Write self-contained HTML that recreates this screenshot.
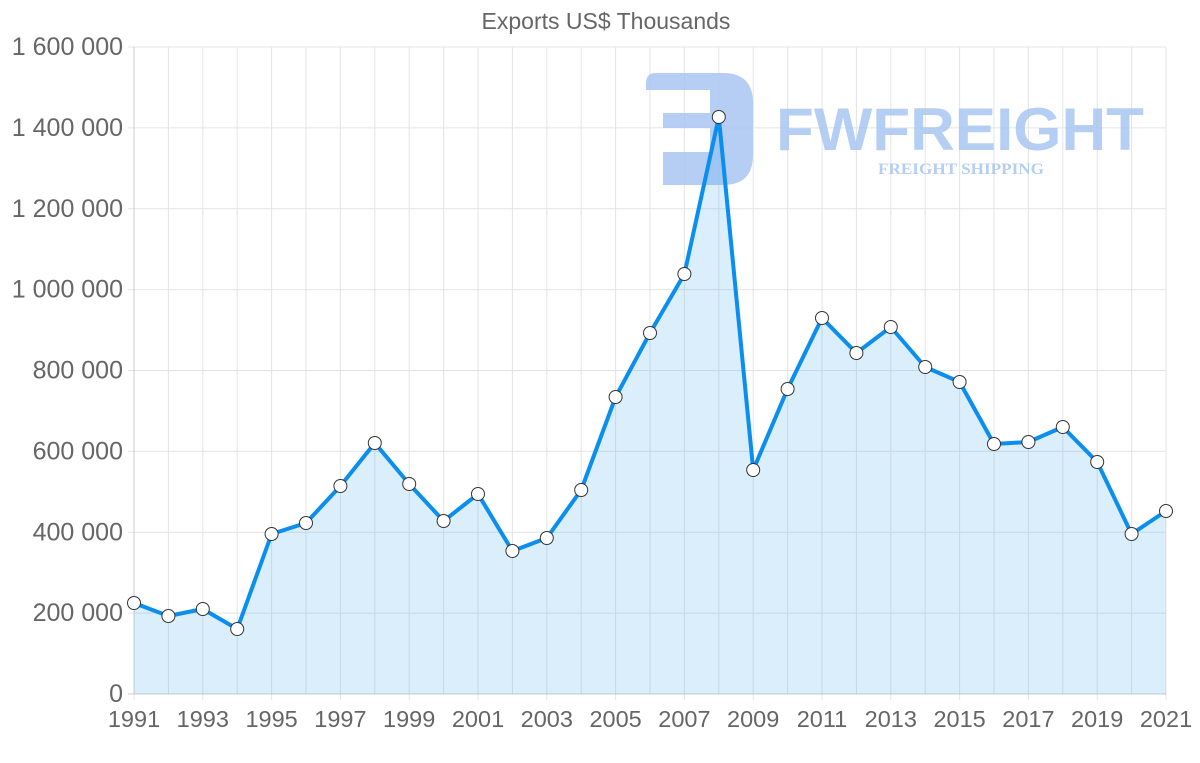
<!DOCTYPE html>
<html><head><meta charset="utf-8"><style>
html,body{margin:0;padding:0;background:#fff;width:1200px;height:763px;overflow:hidden}
svg{display:block;font-family:"Liberation Sans",sans-serif}
</style></head><body>
<svg id="s" width="1200" height="763" viewBox="0 0 1200 763">
<text x="606" y="29" text-anchor="middle" font-size="23" fill="#666">Exports US$ Thousands</text>
<g id="grid"></g>
<g opacity="0.85">
<path d="M656,73 H723 Q753,73 753,103 V155 Q753,185 723,185 H663 V152 H710 V128 H663 V113 H710 V90 H646 V83 Q646,73 656,73 Z" fill="#a9c6f2"/>
<text x="960" y="150" text-anchor="middle" font-size="60" font-weight="bold" fill="#a9c6f2" textLength="368" lengthAdjust="spacingAndGlyphs">FWFREIGHT</text>
<text x="961" y="174" text-anchor="middle" font-size="16" font-weight="bold" font-family="Liberation Serif,serif" fill="#a9c6f2" textLength="166" lengthAdjust="spacingAndGlyphs">FREIGHT SHIPPING</text>
</g>
<g id="data"></g>
</svg>
<script>
var ys=[603,616,609,629,534,523,486,443,484,521,494,551,538,490,397,333,274,117,470,389,318,353,327,367,382,444,442,427,462,534,511];
var x0=134,x1=1166,yb=694,yt=47,ns="http://www.w3.org/2000/svg";
var g=document.getElementById('grid'),d=document.getElementById('data');
function el(t,a,p,txt){var e=document.createElementNS(ns,t);for(var k in a)e.setAttribute(k,a[k]);if(txt)e.textContent=txt;p.appendChild(e);return e;}
var st=(x1-x0)/30;
for(var i=0;i<=30;i++){var x=x0+i*st;el('line',{x1:x,x2:x,y1:yt,y2:yb+(i%2==0?6:0),stroke:'#e4e4e4','stroke-width':1},g);
if(i%2==0)el('text',{x:x,y:727,'text-anchor':'middle','font-size':23.5,fill:'#666'},g,String(1991+i));}
var labs=['0','200 000','400 000','600 000','800 000','1 000 000','1 200 000','1 400 000','1 600 000'];
for(var j=0;j<=8;j++){var y=yb-j*(yb-yt)/8;el('line',{x1:x0-6,x2:x1,y1:y,y2:y,stroke:j==0?'#ccc':'#e4e4e4','stroke-width':1},g);
el('text',{x:123,y:y+8,'text-anchor':'end','font-size':25,fill:'#666'},g,labs[j]);}
el('line',{x1:x0,x2:x0,y1:yt,y2:yb,stroke:'#ccc'},g);
var pts=ys.map(function(v,i){return (x0+i*st).toFixed(1)+','+v;});
el('path',{d:'M'+x0+','+yb+' L'+pts.join(' L')+' L'+x1+','+yb+' Z',fill:'rgba(54,162,235,0.18)'},d);
el('polyline',{points:pts.join(' '),fill:'none',stroke:'#0a8ef0','stroke-width':4,'stroke-linejoin':'round'},d);
ys.forEach(function(v,i){el('circle',{cx:x0+i*st,cy:v,r:6.5,fill:'#fff',stroke:'#333','stroke-width':1},d);});
</script>
</body></html>
